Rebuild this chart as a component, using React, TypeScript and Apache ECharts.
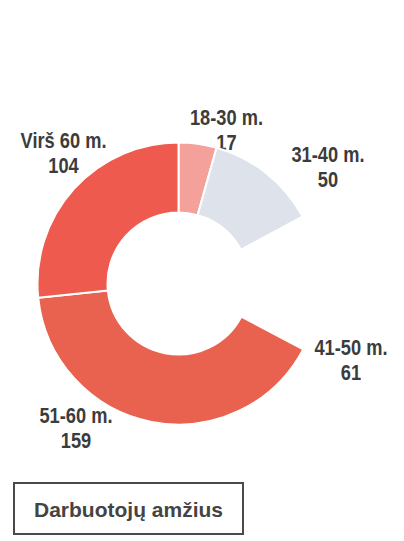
import React, { useEffect, useRef } from "react";
import * as echarts from "echarts";

const categories = ["18-30 m.", "31-40 m.", "41-50 m.", "51-60 m.", "Virš 60 m."];
const values = [17, 50, 61, 159, 104];
const sliceColors = ["#f4a09b", "#dee2ea", "#ffffff", "#e9614f", "#ef5a4f"];
const chartTitle = "Darbuotojų amžius";

// label block centres (layout only)
const labelX = [226.5, 328, 351, 76, 63.5];
const labelY = [130, 167, 360, 428, 153];

export default function App() {
  const ref = useRef<HTMLDivElement>(null);
  useEffect(() => {
    if (!ref.current) return;
    const chart = echarts.init(ref.current, undefined, { renderer: "svg" });
    const labelFont = "'Liberation Sans', Arial, sans-serif";
    const labelTexts = categories.map((name, i) => ({
      type: "text",
      x: labelX[i],
      y: labelY[i],
      scaleX: 0.83,
      silent: true,
      style: {
        text: name + "\n" + values[i],
        fill: "#3c3c3c",
        font: "bold 22px " + labelFont,
        lineHeight: 25,
        textAlign: "center",
        textVerticalAlign: "middle",
      },
    }));
    chart.setOption({
      animation: false,
      backgroundColor: "#ffffff",
      graphic: [
        {
          type: "rect",
          shape: { x: 14, y: 483, width: 229, height: 51 },
          style: { fill: "#ffffff", stroke: "#4a4a4a", lineWidth: 2 },
        },
        {
          type: "text",
          x: 128.5,
          y: 509,
          style: {
            text: chartTitle,
            fill: "#444444",
            font: "bold 21px 'Liberation Sans', Arial, sans-serif",
            textAlign: "center",
            textVerticalAlign: "middle",
          },
        },
        ...labelTexts,
      ],
      series: [
        {
          type: "pie",
          center: [178.5, 283.5],
          radius: [71, 141],
          startAngle: 90,
          clockwise: true,
          avoidLabelOverlap: false,
          emphasis: { disabled: true },
          itemStyle: { borderColor: "#ffffff", borderWidth: 2 },
          label: { show: false },
          labelLine: { show: false },
          data: categories.map((name, i) => ({
            name,
            value: values[i],
            itemStyle: { color: sliceColors[i] },
          })),
        },
      ],
    });
    return () => chart.dispose();
  }, []);
  return (
    <div
      ref={ref}
      style={{ position: "absolute", left: 0, top: 0, width: 404, height: 541 }}
    />
  );
}
